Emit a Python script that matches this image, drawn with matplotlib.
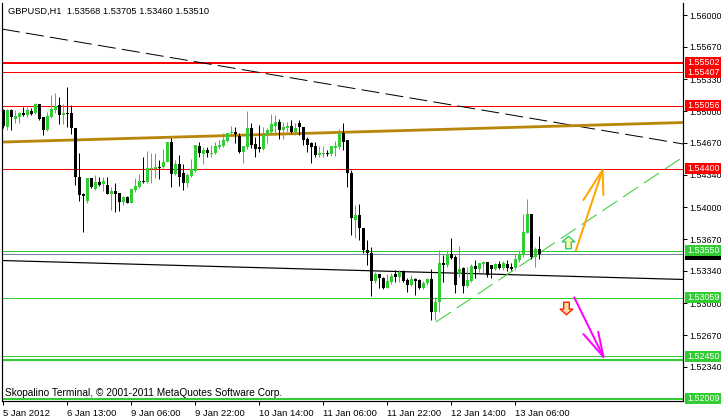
import matplotlib
matplotlib.use("Agg")
import matplotlib.pyplot as plt
from matplotlib.patches import Rectangle
from matplotlib.path import Path
from matplotlib.transforms import blended_transform_factory
import numpy as np

plt.rcParams['font.family'] = ['Liberation Sans', 'DejaVu Sans']
plt.rcParams['lines.scale_dashes'] = False

# ---------------- data (GBPUSD H1) ----------------
opens = [1.5501, 1.5484, 1.5501, 1.5492, 1.5494, 1.5498, 1.5496, 1.5500, 1.5498, 1.5507,
         1.5494, 1.5480, 1.5494, 1.5501, 1.5506, 1.5496, 1.5498, 1.5498, 1.5483, 1.5432,
         1.5414, 1.5407, 1.5430, 1.5419, 1.5426, 1.5424, 1.5423, 1.5414, 1.5417, 1.5415,
         1.5406, 1.5411, 1.5405, 1.5418, 1.5421, 1.5427, 1.5426, 1.5440, 1.5440, 1.5442,
         1.5442, 1.5447, 1.5468, 1.5435, 1.5445, 1.5436, 1.5425, 1.5433, 1.5438, 1.5464,
         1.5455, 1.5460, 1.5455, 1.5456, 1.5463, 1.5464, 1.5469, 1.5477, 1.5478, 1.5474,
         1.5458, 1.5463, 1.5483, 1.5466, 1.5463, 1.5461, 1.5475, 1.5478, 1.5485, 1.5489,
         1.5480, 1.5482, 1.5485, 1.5478, 1.5488, 1.5484, 1.5471, 1.5467, 1.5464, 1.5454,
         1.5455, 1.5456, 1.5455, 1.5462, 1.5463, 1.5477, 1.5470, 1.5436, 1.5387, 1.5392,
         1.5378, 1.5356, 1.5353, 1.5323, 1.5331, 1.5327, 1.5316, 1.5322, 1.5331, 1.5328,
         1.5334, 1.5324, 1.5319, 1.5325, 1.5324, 1.5316, 1.5321, 1.5325, 1.5291, 1.5302,
         1.5342, 1.5340, 1.5351, 1.5348, 1.5331, 1.5337, 1.5318, 1.5323, 1.5339, 1.5336,
         1.5341, 1.5343, 1.5340, 1.5336, 1.5341, 1.5337, 1.5341, 1.5338, 1.5337, 1.5345,
         1.5350, 1.5373, 1.5393, 1.5348, 1.53568]
highs = [1.5502, 1.5502, 1.5502, 1.5501, 1.5499, 1.5504, 1.5504, 1.5503, 1.5508, 1.5507,
         1.5494, 1.5499, 1.5517, 1.5519, 1.5515, 1.5507, 1.5525, 1.5506, 1.5483, 1.5457,
         1.5415, 1.5430, 1.5431, 1.5434, 1.5432, 1.5432, 1.5432, 1.5421, 1.5425, 1.5415,
         1.5412, 1.5412, 1.5420, 1.5431, 1.5435, 1.5452, 1.5459, 1.5456, 1.5457, 1.5449,
         1.5461, 1.5468, 1.5472, 1.5449, 1.5454, 1.5445, 1.5436, 1.5450, 1.5465, 1.5468,
         1.5463, 1.5463, 1.5465, 1.5468, 1.5470, 1.5477, 1.5477, 1.5485, 1.5484, 1.5477,
         1.5464, 1.5500, 1.5488, 1.5473, 1.5486, 1.5484, 1.5482, 1.5497, 1.5496, 1.5492,
         1.5489, 1.5489, 1.5491, 1.5488, 1.5491, 1.5484, 1.5473, 1.5468, 1.5468, 1.5464,
         1.5464, 1.5460, 1.5464, 1.5469, 1.5481, 1.5488, 1.5470, 1.5439, 1.5402, 1.5403,
         1.5378, 1.5366, 1.5359, 1.5333, 1.5331, 1.5328, 1.5331, 1.5332, 1.5335, 1.5335,
         1.5335, 1.5327, 1.5330, 1.5327, 1.5325, 1.5323, 1.5327, 1.5336, 1.5307, 1.5356,
         1.5350, 1.5356, 1.5368, 1.5350, 1.5360, 1.5338, 1.5338, 1.5341, 1.5345, 1.5342,
         1.5344, 1.5343, 1.5340, 1.5342, 1.5344, 1.5344, 1.5345, 1.5342, 1.5351, 1.5356,
         1.5393, 1.5409, 1.5393, 1.5359, 1.53705]
lows = [1.5482, 1.5480, 1.5480, 1.5488, 1.5488, 1.5495, 1.5494, 1.5496, 1.5497, 1.5491,
        1.5475, 1.5479, 1.5493, 1.5498, 1.5487, 1.5487, 1.5484, 1.5476, 1.5423, 1.5407,
        1.5374, 1.5405, 1.5420, 1.5418, 1.5422, 1.5417, 1.5414, 1.5397, 1.5395, 1.5396,
        1.5402, 1.5404, 1.5404, 1.5416, 1.5420, 1.5425, 1.5425, 1.5425, 1.5430, 1.5429,
        1.5440, 1.5447, 1.5421, 1.5434, 1.5422, 1.5418, 1.5421, 1.5432, 1.5437, 1.5452,
        1.5445, 1.5452, 1.5452, 1.5455, 1.5461, 1.5463, 1.5468, 1.5475, 1.5467, 1.5457,
        1.5446, 1.5461, 1.5462, 1.5452, 1.5458, 1.5460, 1.5467, 1.5477, 1.5475, 1.5471,
        1.5471, 1.5478, 1.5477, 1.5475, 1.5475, 1.5465, 1.5458, 1.5446, 1.5452, 1.5452,
        1.5452, 1.5453, 1.5453, 1.5453, 1.5461, 1.5460, 1.5421, 1.5371, 1.5368, 1.5366,
        1.5353, 1.5340, 1.5308, 1.5321, 1.5316, 1.5315, 1.5316, 1.5320, 1.5322, 1.5322,
        1.5322, 1.5312, 1.5318, 1.5309, 1.5315, 1.5315, 1.5319, 1.5283, 1.5283, 1.5291,
        1.5322, 1.5338, 1.5346, 1.5311, 1.5328, 1.5311, 1.5317, 1.5322, 1.5326, 1.5333,
        1.5332, 1.5328, 1.5326, 1.5335, 1.5336, 1.5335, 1.5334, 1.5335, 1.5335, 1.5343,
        1.5348, 1.5373, 1.5346, 1.5338, 1.53460]
closes = [1.5485, 1.5501, 1.5494, 1.5495, 1.5498, 1.5496, 1.5501, 1.5497, 1.5507, 1.5492,
          1.5480, 1.5495, 1.5502, 1.5505, 1.5496, 1.5498, 1.5497, 1.5482, 1.5432, 1.5413,
          1.5412, 1.5430, 1.5421, 1.5426, 1.5423, 1.5427, 1.5414, 1.5417, 1.5414, 1.5406,
          1.5411, 1.5405, 1.5419, 1.5422, 1.5427, 1.5426, 1.5441, 1.5441, 1.5442, 1.5441,
          1.5447, 1.5468, 1.5435, 1.5445, 1.5432, 1.5425, 1.5434, 1.5440, 1.5465, 1.5456,
          1.5460, 1.5456, 1.5456, 1.5464, 1.5465, 1.5470, 1.5477, 1.5478, 1.5476, 1.5458,
          1.5464, 1.5483, 1.5465, 1.5461, 1.5461, 1.5475, 1.5480, 1.5487, 1.5489, 1.5480,
          1.5484, 1.5485, 1.5478, 1.5482, 1.5484, 1.5470, 1.5465, 1.5463, 1.5454, 1.5457,
          1.5456, 1.5455, 1.5464, 1.5464, 1.5477, 1.5468, 1.5436, 1.5389, 1.5392, 1.5378,
          1.5356, 1.5353, 1.5323, 1.5331, 1.5326, 1.5316, 1.5323, 1.5329, 1.5328, 1.5333,
          1.5323, 1.5319, 1.5325, 1.5323, 1.5316, 1.5321, 1.5325, 1.5291, 1.5302, 1.5342,
          1.5340, 1.5351, 1.5347, 1.5319, 1.5336, 1.5318, 1.5324, 1.5339, 1.5336, 1.5342,
          1.5343, 1.5330, 1.5336, 1.5341, 1.5337, 1.5342, 1.5337, 1.5336, 1.5346, 1.5351,
          1.5374, 1.5393, 1.5348, 1.5357, 1.53510]

time_tick_bars = [0, 16, 32, 48, 64, 80, 96, 112, 128]
time_tick_labels = ["5 Jan 2012", "6 Jan 13:00", "9 Jan 06:00", "9 Jan 22:00",
                    "10 Jan 14:00", "11 Jan 06:00", "11 Jan 22:00", "12 Jan 14:00",
                    "13 Jan 06:00"]
price_ticks = [1.56000, 1.55670, 1.55330, 1.55000, 1.54670, 1.54340, 1.54000,
               1.53670, 1.53340, 1.53000, 1.52670, 1.52340]

red_levels = [1.55502, 1.55407, 1.55056, 1.54400]
green_levels = [1.53550, 1.53059, 1.52450, 1.52009]
extra_green_level = 1.52414
bid_price = 1.53510

# trend lines: (bar, price) endpoints
dashed_black = [(-0.25, 1.55854), (170, 1.54659)]
brown_line = [(-0.25, 1.54679), (170, 1.54882)]
black_line = [(-0.25, 1.53447), (170, 1.53250)]
green_trend = [(108.25, 1.52808), (170, 1.54523)]

orange_arrow = [(143.2, 1.53550), (149.9, 1.54388)]
orange_heads = [(145.1, 1.54076), (150.1, 1.54128)]
magenta_arrow = [(142.8, 1.53064), (150.1, 1.52446)]
magenta_heads = [(145.1, 1.52682), (148.8, 1.52706)]
buy_mark = (141.2, 1.53642)
sell_mark = (140.7, 1.52953)

title = "GBPUSD,H1  1.53568 1.53705 1.53460 1.53510"
copyright_txt = "Skopalino Terminal, \u00a9 2001-2011 MetaQuotes Software Corp."

# ---------------- figure ----------------
W, H = 721, 418
PX = 0.72  # points per pixel at dpi 100
fig = plt.figure(figsize=(W / 100, H / 100), dpi=100)
fig.patch.set_facecolor('white')
ax = fig.add_axes([2 / W, (H - 401) / H, 681 / W, 398 / H])
ax.set_facecolor('white')
ymin, ymax = 1.51986, 1.56125
ax.set_xlim(-0.25, 170)
ax.set_ylim(ymin, ymax)
pxy = (ymax - ymin) / 398.0

LIME = '#32CD32'
RED = '#FF0000'

# horizontal levels
for p, lw in zip(red_levels, [2, 1, 1, 1]):
    ax.axhline(p, color=RED, lw=lw * PX, zorder=1.2)
for p, lw in zip(green_levels, [1, 1, 1, 2]):
    ax.axhline(p, color=LIME, lw=lw * PX, zorder=1.2)
ax.axhline(extra_green_level, color=LIME, lw=2.2 * PX, zorder=1.2)
ax.axhline(bid_price, color='#778899', lw=1 * PX, zorder=1.2)

# trend lines
def seg(pts, **kw):
    ax.plot([pts[0][0], pts[1][0]], [pts[0][1], pts[1][1]], **kw)

seg(dashed_black, color='black', lw=1 * PX, dashes=(13, 4.5), zorder=1.3)
seg(brown_line, color='#B8860B', lw=2.8 * PX, zorder=1.3, solid_capstyle='butt')
seg(black_line, color='black', lw=1.2 * PX, zorder=1.3)
seg(green_trend, color=LIME, lw=1 * PX, dashes=(13, 5), zorder=1.3)

# candles
idx = np.arange(len(opens))
o = np.array(opens); h = np.array(highs); l = np.array(lows); c = np.array(closes)
up = c > o
cols = np.where(up, LIME, 'black')
ax.vlines(idx, l, h, colors=cols, lw=1 * PX, zorder=3)
bottoms = np.minimum(o, c)
heights = np.maximum(np.abs(c - o), pxy)
ax.bar(idx, heights, width=0.75, bottom=bottoms, color=cols, linewidth=0, zorder=3.1)

# arrows
tip = orange_arrow[1]
seg(orange_arrow, color='#FFA500', lw=2 * PX, zorder=4, solid_capstyle='round')
for hp in orange_heads:
    seg([hp, tip], color='#FFA500', lw=2 * PX, zorder=4, solid_capstyle='round')
tip = magenta_arrow[1]
seg(magenta_arrow, color='#FF00FF', lw=2 * PX, zorder=4, solid_capstyle='round')
for hp in magenta_heads:
    seg([hp, tip], color='#FF00FF', lw=2 * PX, zorder=4, solid_capstyle='round')

up_verts = [(0, 1), (1, 0.1), (0.45, 0.1), (0.45, -1), (-0.45, -1), (-0.45, 0.1), (-1, 0.1), (0, 1)]
up_path = Path(up_verts, closed=True)
down_path = Path([(x, -y) for x, y in up_verts], closed=True)
ax.plot([buy_mark[0]], [buy_mark[1]], marker=up_path, ms=9, mfc='#FFFF99',
        mec='#2EC98A', mew=1.0, zorder=4)
ax.plot([sell_mark[0]], [sell_mark[1]], marker=down_path, ms=9, mfc='#FFE0A0',
        mec='#FF2000', mew=1.0, zorder=4)

# axes styling
ax.spines['top'].set_visible(False)
for s in ['left', 'right', 'bottom']:
    ax.spines[s].set_linewidth(1.2 * PX)
    ax.spines[s].set_color('black')
ax.yaxis.tick_right()
ax.set_yticks(price_ticks)
ax.set_yticklabels([f"{p:.5f}" for p in price_ticks])
ax.tick_params(axis='y', which='both', right=True, left=False, length=3, width=PX,
               pad=1.3, labelsize=6.4, colors='black')
ax.set_xticks(time_tick_bars)
ax.set_xticklabels(time_tick_labels)
ax.tick_params(axis='x', length=3, width=PX, pad=2.5, labelsize=6.8, colors='black')
for lbl in ax.get_xticklabels():
    lbl.set_ha('left')

# price labels at right
bt = blended_transform_factory(fig.transFigure, ax.transData)
def price_box(p, face, text=True):
    r = Rectangle((685 / W, p - 5.5 * pxy), 1 - 685 / W, 11 * pxy, transform=bt,
                  facecolor=face, edgecolor='none', clip_on=False, zorder=5)
    ax.add_patch(r)
    if text:
        ax.text(687.5 / W, p, f"{p:.5f}", transform=bt, color='white', fontsize=6.4,
                va='center', ha='left', clip_on=False, zorder=6)

price_box(bid_price, 'black', text=False)
for p in red_levels:
    price_box(p, RED)
for p in green_levels:
    price_box(p, LIME)

fig.text(8 / W, 1 - 11 / H, title, fontsize=6.7, va='center', ha='left', color='black')
fig.text(5 / W, 1 - 393 / H, copyright_txt, fontsize=7.3, va='center', ha='left', color='black')

fig.savefig('out.png', dpi=100, facecolor='white')
